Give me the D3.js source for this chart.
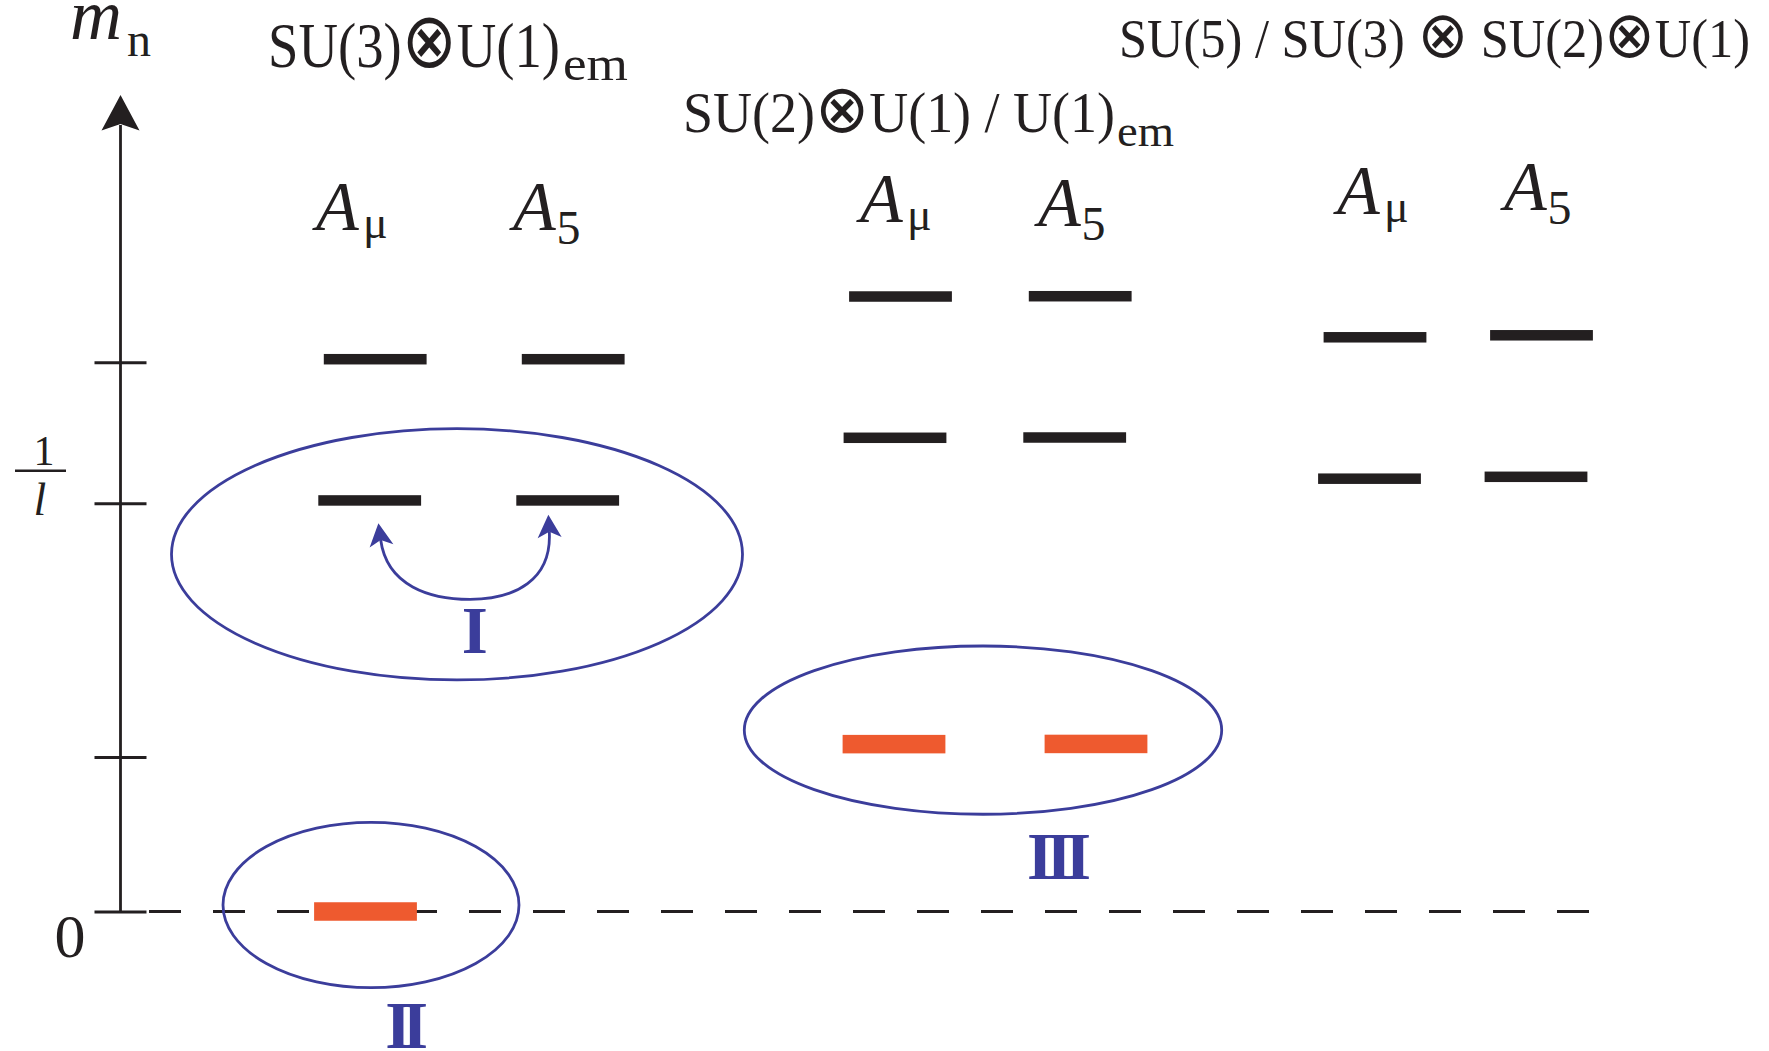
<!DOCTYPE html>
<html>
<head>
<meta charset="utf-8">
<script src="https://cdn.jsdelivr.net/npm/d3@7"></script>
<style>
  html, body { margin: 0; padding: 0; background: #fff; }
  svg { display: block; }
</style>
</head>
<body>
<svg id="chart" width="1769" height="1051" font-family="Liberation Serif"></svg>
<script>
// ---- data: Kaluza-Klein mass levels m_n, in units of 1/l ----
const sectorIds = ["su3", "su2", "su5"];
const fieldIds = ["Amu", "A5"];

// heavy KK levels (black bars)
const heavySector = [0, 0, 0, 0, 1, 1, 1, 1, 2, 2, 2, 2];
const heavyField  = [0, 0, 1, 1, 0, 0, 1, 1, 0, 0, 1, 1];
const heavyRank   = [1, 0, 1, 0, 1, 0, 1, 0, 1, 0, 1, 0];
const heavyMass   = [1.007, 1.353, 1.007, 1.353, 1.1605, 1.5066, 1.1612, 1.5073, 1.0603, 1.4067, 1.0649, 1.4116];

// light modes (orange bars)
const lightSector = [0, 1, 1];
const lightField  = [0, 0, 1];
const lightMass   = [0, 0.410, 0.4105];

// vertical axis
const massTicks  = [0, 0.3785, 1, 1.3454];
const massTop    = 2.0;

// grouped regions I, II, III
const regionNames = ["I", "II", "III"];
const regionMass  = [0.875, 0.0159, 0.4443];
const regionHalf  = [0.3078, 0.2026, 0.2061];

// ---- layout ----
const W = 1769, H = 1051;
const ink = "#231f20", orange = "#ee5a2f", blue = "#3b3d9b";
const serif = "Liberation Serif";
const axisX = 120.5;
const barW = 102.8, heavyH = 10.5, lightH = 18.5;
const stagger = 5.5;   // lower levels sit slightly to the left

const svg = d3.select("#chart");

const y = d3.scaleLinear().domain([0, 1]).range([911.5, 503.3]);

// column centres of the top level in each sector/field
const colKey = (s, f) => sectorIds[s] + "-" + fieldIds[f];
const xCol = d3.scaleOrdinal()
  .domain(["su3-Amu", "su3-A5", "su2-Amu", "su2-A5", "su5-Amu", "su5-A5"])
  .range([375.2, 573.2, 900.5, 1080.2, 1375, 1541.5]);
const xLight = d3.scaleOrdinal()
  .domain(["su3-Amu", "su2-Amu", "su2-A5"])
  .range([365.5, 894, 1096]);

function label(x, yy, size, str) {
  return svg.append("text").attr("x", x).attr("y", yy)
    .attr("font-family", serif).attr("font-size", size)
    .attr("fill", ink).text(str);
}

// ---- axis ----
const axisG = svg.append("g").attr("transform", `translate(${axisX + 26},0)`)
  .call(d3.axisLeft(y).tickValues(massTicks).tickSize(52).tickFormat(""));
axisG.select(".domain").remove();
axisG.selectAll(".tick line").attr("stroke", ink).attr("stroke-width", 3);

svg.append("line")
  .attr("x1", axisX).attr("x2", axisX)
  .attr("y1", y(0)).attr("y2", y(massTop) + 30)
  .attr("stroke", ink).attr("stroke-width", 2.8);

const tipY = y(massTop);
svg.append("path")
  .attr("d", `M${axisX},${tipY} L${axisX - 19},${tipY + 35.5} L${axisX},${tipY + 29} L${axisX + 19},${tipY + 35.5} Z`)
  .attr("fill", ink);

// zero line
svg.append("line")
  .attr("x1", 149).attr("x2", 1589)
  .attr("y1", y(0)).attr("y2", y(0))
  .attr("stroke", ink).attr("stroke-width", 3)
  .attr("stroke-dasharray", "32,32");

// axis labels
label(70, 39, 72, "m").attr("font-style", "italic");
label(127, 56, 48, "n");

label(44, y(1) - 38, 42, "1").attr("text-anchor", "middle");
svg.append("line").attr("x1", 15).attr("x2", 66)
  .attr("y1", y(1) - 32.6).attr("y2", y(1) - 32.6)
  .attr("stroke", ink).attr("stroke-width", 2.5);
label(40, y(1) + 11.5, 46, "l").attr("text-anchor", "middle").attr("font-style", "italic");

label(70, y(0) + 45.5, 62, "0").attr("text-anchor", "middle");

// ---- sector titles ----
function title(x, base, size, parts, len, sub, subX, subBase, subSize, subLen) {
  const t = label(x, base, size, null)
    .attr("textLength", len).attr("lengthAdjust", "spacingAndGlyphs");
  parts.forEach(p => {
    const ts = t.append("tspan").text(p);
    if (p === "⊗") ts.attr("font-family", "DejaVu Sans").attr("font-size", size * 1.2);
  });
  if (sub) {
    label(subX, subBase, subSize, sub)
      .attr("textLength", subLen).attr("lengthAdjust", "spacingAndGlyphs");
  }
}
title(268, 67, 64, ["SU(3)", "⊗", "U(1)"], 292, "em", 563, 80, 48, 65);
title(683, 132, 56, ["SU(2)", "⊗", "U(1) / U(1)"], 432, "em", 1117, 146, 44, 57);
title(1119, 57, 54, ["SU(5) / SU(3) ", "⊗", " SU(2)", "⊗", "U(1)"], 631);

// ---- field labels A_mu, A_5 ----
const labelX    = [316, 513, 860, 1038, 1337, 1504];
const labelBase = [230, 230, 222, 226, 214, 210];
const subText = ["μ", "5"];
d3.range(6).forEach(i => {
  const f = i % 2;
  label(labelX[i], labelBase[i], 70, "A").attr("font-style", "italic");
  label(labelX[i] + (f === 0 ? 47 : 43.5), labelBase[i] + (f === 0 ? 8 : 14),
        f === 0 ? 46 : 48, subText[f]);
});

// ---- level bars ----
svg.append("g").selectAll("rect")
  .data(d3.range(heavyMass.length))
  .join("rect")
  .attr("x", i => xCol(colKey(heavySector[i], heavyField[i])) - stagger * heavyRank[i] - barW / 2)
  .attr("y", i => y(heavyMass[i]) - heavyH / 2)
  .attr("width", barW).attr("height", heavyH)
  .attr("fill", ink);

svg.append("g").selectAll("rect")
  .data(d3.range(lightMass.length))
  .join("rect")
  .attr("x", i => xLight(colKey(lightSector[i], lightField[i])) - barW / 2)
  .attr("y", i => y(lightMass[i]) - lightH / 2)
  .attr("width", barW).attr("height", lightH)
  .attr("fill", orange);

// ---- regions ----
const regionCx = [457, 371, 983];
const regionRx = [285.5, 148, 238.7];
svg.append("g").selectAll("ellipse")
  .data(d3.range(regionNames.length))
  .join("ellipse")
  .attr("cx", i => regionCx[i])
  .attr("cy", i => y(regionMass[i]))
  .attr("rx", i => regionRx[i])
  .attr("ry", i => y(0) - y(regionHalf[i]))
  .attr("fill", "none").attr("stroke", blue).attr("stroke-width", 2.8);

const regionLabelX = [472.7, 406.7, 1059];
const regionLabelY = [652.7, 1048, 879.3];
const regionLabelW = [22, 43, 64];
svg.append("g").selectAll("text")
  .data(d3.range(regionNames.length))
  .join("text")
  .attr("x", i => regionLabelX[i] - regionLabelW[i] / 2)
  .attr("y", i => regionLabelY[i])
  .attr("font-family", serif)
  .attr("font-weight", "bold").attr("font-size", 67)
  .attr("textLength", i => regionLabelW[i]).attr("lengthAdjust", "spacing")
  .attr("fill", blue)
  .text(i => regionNames[i]);

// mixing arrow between the first A_mu and A_5 levels in region I
const defs = svg.append("defs");
defs.append("marker")
  .attr("id", "head").attr("markerUnits", "userSpaceOnUse")
  .attr("viewBox", "-25 -13 30 26").attr("markerWidth", 30).attr("markerHeight", 26)
  .attr("refX", -17).attr("refY", 0).attr("orient", "auto-start-reverse")
  .append("path").attr("d", "M0,0 L-23,-12 L-17,0 L-23,12 Z").attr("fill", blue);

svg.append("path")
  .attr("d", "M380.7,540 C387,586 430,599.3 470,599.3 C515,599.3 552,580 549.3,531.7")
  .attr("fill", "none").attr("stroke", blue).attr("stroke-width", 2.8)
  .attr("marker-start", "url(#head)").attr("marker-end", "url(#head)");
</script>
</body>
</html>
